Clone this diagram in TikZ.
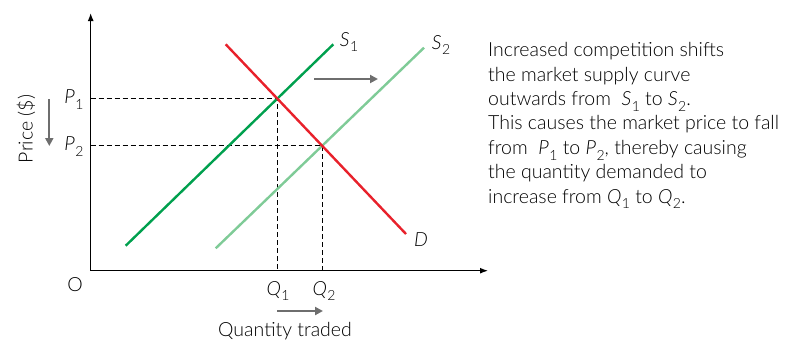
\documentclass[tikz,border=0pt]{standalone}
\usepackage{fontspec}
\setmainfont{Lato}[UprightFont={* Light},ItalicFont={* Light Italic}]
\usetikzlibrary{arrows.meta,intersections}
\definecolor{sone}{HTML}{00A04E}
\definecolor{stwo}{HTML}{7FCB97}
\definecolor{dred}{HTML}{E8212B}
\definecolor{garr}{HTML}{6E6E6E}
\newcommand\sublab[2]{\textit{#1}\kern0.5pt\raisebox{-0.3em}{\fontsize{14}{14}\selectfont #2}}
\begin{document}
\begin{tikzpicture}[x=1pt,y=-1pt,
  axis/.style={line width=1.3pt,{Latex[length=8pt,width=6pt]}-{Latex[length=8pt,width=6pt]}},
  guide/.style={line width=1.1pt,dash pattern=on 5pt off 3pt},
  curve/.style={line width=2.4pt},
  shiftarrow/.style={garr,line width=2pt,-{Triangle[length=8pt,width=8pt]}},
  lab/.style={font=\fontsize{19.5}{19.5}\selectfont,inner sep=0pt},
  note/.style={font=\fontsize{19.5}{24.4}\selectfont,inner sep=0pt,anchor=base west}]
\useasboundingbox (0,0) rectangle (791,341);
\coordinate (O) at (90.7,270.7);
\coordinate (ytop) at (90.7,13);
\coordinate (xend) at (488,270.7);
\draw[axis] (ytop) -- (O) -- (xend);
% curves
\coordinate (s1a) at (125.7,245.7);
\coordinate (s1b) at (333.3,44.3);
\coordinate (s2a) at (215.7,248.3);
\coordinate (s2b) at (424,47.7);
\coordinate (da) at (225.7,44.3);
\coordinate (db) at (406,234);
\path[name path=ps1] (s1a) -- (s1b);
\path[name path=ps2] (s2a) -- (s2b);
\path[name path=pd] (da) -- (db);
\path[name intersections={of=ps1 and pd,by=E1}];
\path[name intersections={of=ps2 and pd,by=E2}];
\draw[guide] (O |- E1) -- (E1) -- (E1 |- O);
\draw[guide] (O |- E2) -- (E2) -- (E2 |- O);
\draw[curve,stwo] (s2a) -- (s2b);
\draw[curve,sone] (s1a) -- (s1b);
\draw[curve,dred] (da) -- (db);
% shift arrows
\coordinate (sh1) at (314,79);
\coordinate (sh2) at (378,79);
\draw[shiftarrow] (sh1) -- (sh2);
\coordinate (q1) at (277,311);
\coordinate (q2) at (323,311);
\draw[shiftarrow] (q1) -- (q2);
\coordinate (p1) at (49.3,99.3);
\coordinate (p2) at (49.3,146);
\draw[shiftarrow] (p1) -- (p2);
% labels
\node[lab] (lS1) at (349,42) {\sublab{S}{1}};
\node[lab] (lS2) at (441,45) {\sublab{S}{2}};
\node[lab] (lD) at (421,240) {\textit{D}};
\node[lab] (lO) at (75,285) {O};
\node[lab] (lP1) at (74,100) {\sublab{P}{1}};
\node[lab] (lP2) at (74,147) {\sublab{P}{2}};
\node[lab] (lQ1) at (278,291) {\sublab{Q}{1}};
\node[lab] (lQ2) at (324,291) {\sublab{Q}{2}};
\node[lab,anchor=base] (lQT) at (285,336) {Quantity traded};
\node[lab,rotate=90] (lPR) at (26,129) {Price (\$)};
\node[note] (t1) at (488,56.7) {Increased competition shifts};
\node[note] (t2) at (488,81.1) {the market supply curve};
\node[note] (t3) at (488,105.5) {outwards from \ \sublab{S}{1} to \sublab{S}{2}.};
\node[note] (t4) at (488,129.9) {This causes the market price to fall};
\node[note] (t5) at (488,154.3) {from \ \sublab{P}{1} to \sublab{P}{2}, thereby causing};
\node[note] (t6) at (488,178.7) {the quantity demanded to};
\node[note] (t7) at (488,203.1) {increase from \sublab{Q}{1} to \sublab{Q}{2}.};
\end{tikzpicture}
\end{document}
